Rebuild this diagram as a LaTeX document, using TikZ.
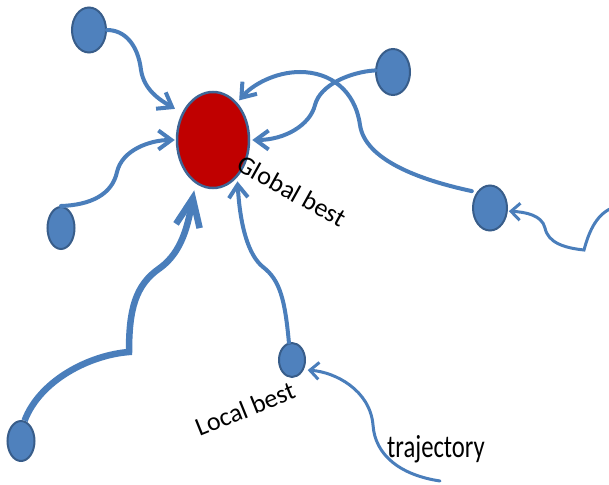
\documentclass[tikz,border=0pt]{standalone}
\usepackage{fontspec}
\setmainfont{Carlito}
\usetikzlibrary{shapes.geometric,arrows.meta}
\definecolor{lineblue}{RGB}{74,126,187}
\definecolor{nodefill}{RGB}{79,129,189}
\definecolor{nodeborder}{RGB}{56,93,138}
\definecolor{gbfill}{RGB}{192,0,0}
\definecolor{gbborder}{RGB}{62,102,150}
\tikzset{
  particle/.style={ellipse, draw=nodeborder, fill=nodefill, line width=2pt, inner sep=0pt},
  gbest/.style={ellipse, draw=gbborder, fill=gbfill, line width=2.5pt, inner sep=0pt, minimum width=72pt, minimum height=96pt},
  flow/.style={draw=lineblue, line width=4pt, line cap=round, -{Straight Barb[length=13pt,width=19pt]}},
  thickflow/.style={draw=lineblue, line width=6.5pt, -{Straight Barb[length=28pt,width=24pt]}},
  thinflow/.style={draw=lineblue, line width=3pt, line cap=round, -{Straight Barb[length=9pt,width=17pt]}},
  lbl/.style={font=\fontsize{26}{31}\selectfont, inner sep=0pt},
  trajlbl/.style={font=\fontsize{32}{38}\selectfont, inner sep=0pt, xscale=0.77}
}
\begin{document}
\begin{tikzpicture}[x=1pt,y=-1pt]
\useasboundingbox (0,0) rectangle (609,484);
% nodes
\node[gbest] (g) at (213,140) {};
\node[particle, minimum width=34pt, minimum height=45pt] (n1) at (89,30) {};
\node[particle, minimum width=27pt, minimum height=42pt] (n2) at (61,228) {};
\node[particle, minimum width=34pt, minimum height=46pt] (n3) at (393,72) {};
\node[particle, minimum width=34pt, minimum height=45pt] (n4) at (490,208) {};
\node[particle, minimum width=26pt, minimum height=34pt] (n5) at (292,360) {};
\node[particle, minimum width=27pt, minimum height=40pt] (n6) at (21,441) {};
\coordinate (gs) at (612,208);
\coordinate (hs) at (440,481);
% connectors
\draw[flow, shorten >=8pt] (n1.east) .. controls (125,30) and (138,45) .. (141,70)
  .. controls (144,90) and (160,100) .. (g.139);
\draw[flow, shorten >=1pt] (n2.north) .. controls (90,205) and (112,195) .. (117,172)
  .. controls (122,150) and (150,140) .. (g.180);
\draw[thickflow, shorten >=7pt] (n6.80) .. controls (40,380) and (90,355) .. (129,352)
  .. controls (129,310) and (135,285) .. (160,268)
  .. controls (182,252) and (188,225) .. (g.248);
\draw[flow, shorten >=4pt] (n5.100) .. controls (285,300) and (280,280) .. (263,267)
  .. controls (248,255) and (240,225) .. (g.303);
\draw[flow, shorten >=2pt] (n3.175) .. controls (350,72) and (320,85) .. (315,105)
  .. controls (310,125) and (285,140) .. (g.0);
\draw[flow, shorten >=3pt, shorten <=5pt] (n4.130) .. controls (420,180) and (365,160) .. (360,125)
  .. controls (355,90) and (330,72) .. (300,72)
  .. controls (275,72) and (252,85) .. (g.57);
\draw[thinflow, shorten >=1pt] (gs) .. controls (595,215) and (588,235) .. (584,250)
  .. controls (565,248) and (548,243) .. (545,228)
  .. controls (542,215) and (525,212) .. (n4.-10);
\draw[thinflow, shorten >=4pt] (hs) .. controls (400,475) and (375,455) .. (373,425)
  .. controls (370,390) and (335,372) .. (n5.-40);
% labels
\node[lbl, rotate=-29] (tg) at (292,191) {Global best};
\node[lbl, rotate=22] (tl) at (245,409) {Local best};
\node[trajlbl] (tt) at (436,449) {trajectory};
\end{tikzpicture}
\end{document}
